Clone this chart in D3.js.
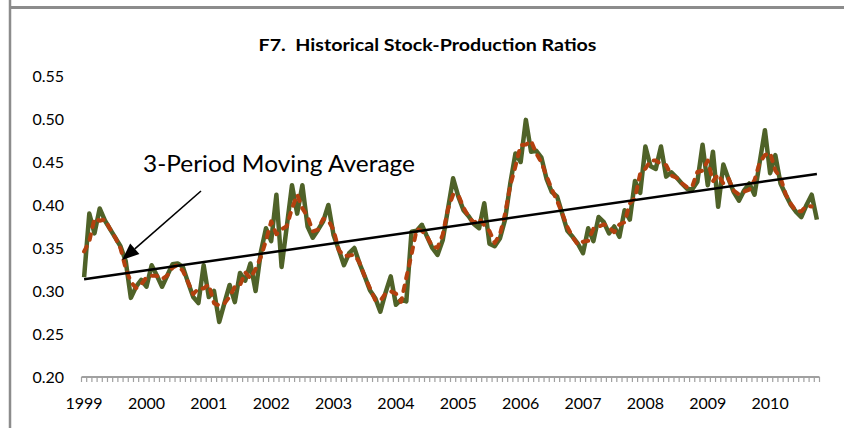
<!DOCTYPE html>
<html>
<head>
<meta charset="utf-8">
<script src="https://cdn.jsdelivr.net/npm/d3@7"></script>
<style>
  html, body { margin: 0; padding: 0; background: #fff; }
  svg { display: block; font-family: Lato, "Open Sans", sans-serif; }
</style>
</head>
<body>
<div id="chart"></div>
<script>
// Monthly stock-production ratio, Jan 1999 .. Oct 2010
const ratio = [
  0.316, 0.390, 0.367, 0.396, 0.382, 0.372, 0.362, 0.352, 0.335, 0.292, 0.305, 0.313,
  0.305, 0.330, 0.318, 0.305, 0.318, 0.331, 0.332, 0.328, 0.310, 0.293, 0.286, 0.330,
  0.293, 0.300, 0.264, 0.286, 0.307, 0.287, 0.321, 0.312, 0.332, 0.300, 0.345, 0.373,
  0.358, 0.412, 0.328, 0.375, 0.423, 0.390, 0.423, 0.375, 0.362, 0.371, 0.381, 0.400,
  0.365, 0.348, 0.330, 0.344, 0.350, 0.332, 0.317, 0.301, 0.292, 0.276, 0.298, 0.317,
  0.284, 0.290, 0.288, 0.369, 0.370, 0.377, 0.363, 0.350, 0.342, 0.359, 0.395, 0.431,
  0.410, 0.394, 0.387, 0.378, 0.373, 0.402, 0.355, 0.352, 0.361, 0.383, 0.425, 0.460,
  0.450, 0.499, 0.462, 0.463, 0.455, 0.430, 0.415, 0.410, 0.390, 0.370, 0.363, 0.355,
  0.344, 0.373, 0.358, 0.386, 0.380, 0.367, 0.375, 0.363, 0.394, 0.383, 0.428, 0.414,
  0.468, 0.445, 0.442, 0.468, 0.433, 0.438, 0.432, 0.425, 0.419, 0.418, 0.427, 0.470,
  0.423, 0.462, 0.398, 0.447, 0.430, 0.415, 0.405, 0.417, 0.425, 0.412, 0.450, 0.487,
  0.437, 0.458, 0.425, 0.412, 0.400, 0.392, 0.386, 0.400, 0.412, 0.383
];
// Dec 1998 value, only used for the first moving-average point
const priorRatio = 0.332;
const years = ['1999', '2000', '2001', '2002', '2003', '2004', '2005', '2006', '2007', '2008', '2009', '2010'];
const yTicks = [0.20, 0.25, 0.30, 0.35, 0.40, 0.45, 0.50, 0.55];

const width = 844;
const height = 428;

const svg = d3.select('#chart')
  .append('svg')
  .attr('width', width)
  .attr('height', height);

// Frame remnants
svg.append('line')
  .attr('x1', 9).attr('y1', 7.5).attr('x2', width).attr('y2', 7.5)
  .attr('stroke', '#8c8c8c').attr('stroke-width', 3);
svg.append('line')
  .attr('x1', 10).attr('y1', 0).attr('x2', 10).attr('y2', height)
  .attr('stroke', '#8c8c8c').attr('stroke-width', 2.5);

const n = ratio.length;
const x = d3.scaleBand()
  .domain(d3.range(n))
  .range([81.5, 819.5]);
const cx = i => x(i) + x.bandwidth() / 2;

const y = d3.scaleLinear()
  .domain([0.20, 0.55])
  .range([377, 76]);

// Title
svg.append('text')
  .attr('x', 427.5)
  .attr('y', 51)
  .attr('text-anchor', 'middle')
  .attr('font-size', 17)
  .attr('font-weight', 700)
  .attr('fill', '#000')
  .attr('textLength', 338)
  .attr('lengthAdjust', 'spacingAndGlyphs')
  .attr('xml:space', 'preserve')
  .text('F7.  Historical Stock-Production Ratios');

// Y labels
svg.append('g')
  .selectAll('text')
  .data(yTicks)
  .join('text')
  .attr('x', 64)
  .attr('y', d => y(d))
  .attr('dy', '0.35em')
  .attr('text-anchor', 'end')
  .attr('font-size', 16)
  .attr('fill', '#000')
  .text(d => d.toFixed(2));

// X axis with a tick between every month
const axisG = svg.append('g');
axisG.append('line')
  .attr('x1', x.range()[0]).attr('x2', x.range()[1])
  .attr('y1', y(0.20)).attr('y2', y(0.20))
  .attr('stroke', '#a0a0a0').attr('stroke-width', 2);
axisG.selectAll('line.tick')
  .data(d3.range(n + 1))
  .join('line')
  .attr('class', 'tick')
  .attr('x1', i => (i < n ? x(i) : x.range()[1]))
  .attr('x2', i => (i < n ? x(i) : x.range()[1]))
  .attr('y1', y(0.20))
  .attr('y2', y(0.20) + 5)
  .attr('stroke', '#a0a0a0')
  .attr('stroke-width', 1.2);

axisG.selectAll('text')
  .data(years)
  .join('text')
  .attr('x', (d, k) => cx(k * 12))
  .attr('y', 409)
  .attr('text-anchor', 'middle')
  .attr('font-size', 16)
  .attr('fill', '#000')
  .text(d => d);

// Series
const line = d3.line()
  .x((d, i) => cx(i))
  .y(d => y(d));

svg.append('path')
  .datum(ratio)
  .attr('fill', 'none')
  .attr('stroke', '#4f6228')
  .attr('stroke-width', 4.5)
  .attr('stroke-linejoin', 'round')
  .attr('d', line);

// 3-period centred moving average
const padded = [priorRatio].concat(ratio);
const movAvg = d3.range(n - 1).map(i => ({
  i,
  v: d3.mean(padded.slice(i, i + 3))
}));

svg.append('path')
  .datum(movAvg)
  .attr('fill', 'none')
  .attr('stroke', '#b3400e')
  .attr('stroke-width', 4)
  .attr('stroke-linecap', 'round')
  .attr('stroke-linejoin', 'round')
  .attr('stroke-dasharray', '5.5,7.5')
  .attr('d', d3.line().x(d => cx(d.i)).y(d => y(d.v)));

// Linear trend (least squares)
const idx = d3.range(n);
const mx = d3.mean(idx);
const my = d3.mean(ratio);
const slope = d3.sum(idx, i => (i - mx) * (ratio[i] - my)) / d3.sum(idx, i => (i - mx) ** 2);
const fit = i => my + slope * (i - mx);

svg.append('line')
  .attr('x1', cx(0)).attr('y1', y(fit(0)))
  .attr('x2', cx(n - 1)).attr('y2', y(fit(n - 1)))
  .attr('stroke', '#000')
  .attr('stroke-width', 2.5);

// Annotation
svg.append('text')
  .attr('x', 143)
  .attr('y', 172)
  .attr('font-size', 24)
  .attr('fill', '#000')
  .attr('textLength', 272)
  .attr('lengthAdjust', 'spacingAndGlyphs')
  .text('3-Period Moving Average');

const tip = [122, 260];
const tail = [201, 191];
const ang = Math.atan2(tip[1] - tail[1], tip[0] - tail[0]);
const headLen = 17;
const headW = 7;
const base = [tip[0] - headLen * Math.cos(ang), tip[1] - headLen * Math.sin(ang)];

svg.append('line')
  .attr('x1', tail[0]).attr('y1', tail[1])
  .attr('x2', base[0]).attr('y2', base[1])
  .attr('stroke', '#000')
  .attr('stroke-width', 1.6);
svg.append('polygon')
  .attr('points', [
    tip,
    [base[0] + headW * Math.sin(ang), base[1] - headW * Math.cos(ang)],
    [base[0] - headW * Math.sin(ang), base[1] + headW * Math.cos(ang)]
  ].map(p => p.join(',')).join(' '))
  .attr('fill', '#000');
</script>
</body>
</html>
